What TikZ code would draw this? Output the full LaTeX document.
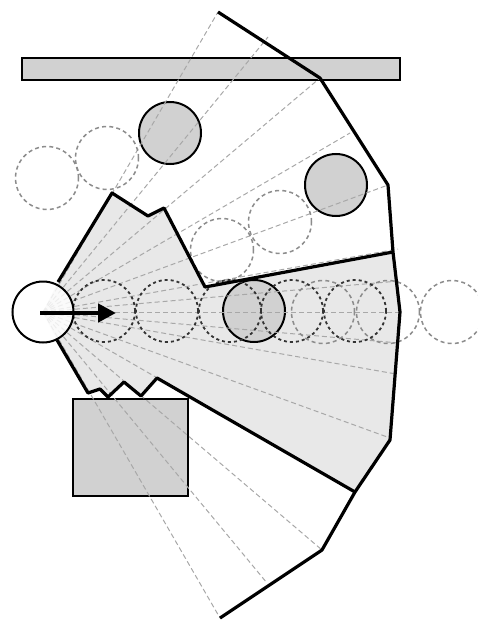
\documentclass[tikz,border=0pt]{standalone}
\usetikzlibrary{arrows.meta}
\begin{document}
\begin{tikzpicture}[x=0.5mm,y=-0.5mm,
  region/.style={fill=black!9},
  obst/.style={draw=black,fill=black!18,line width=1.0mm},
  obstc/.style={circle,draw=black,fill=black!18,line width=1.0mm,minimum size=31mm,inner sep=0pt},
  sray/.style={draw=black!34,line width=0.5mm,dash pattern=on 2.5mm off 1.5mm},
  dcirc/.style={circle,draw=black!80,line width=0.9mm,dash pattern=on 1.5mm off 1.5mm,minimum size=31mm,inner sep=0pt},
  lcirc/.style={circle,draw=black!45,line width=0.75mm,dash pattern=on 2mm off 1.6mm,minimum size=31.5mm,inner sep=0pt},
  bound/.style={draw=black,line width=1.6mm,line join=round},
  robot/.style={circle,draw=black,fill=white,fill opacity=0.8,line width=1.0mm,minimum size=30.5mm,inner sep=0pt},
  mvarrow/.style={draw=black,line width=2.4mm,-{Triangle[length=9mm,width=9mm]}}
]
\useasboundingbox (0,0) rectangle (478,623);
\coordinate (c) at (43,312);
% shaded visible region
\path[region] (c) -- (58,282) -- (112,193) -- (148,216) -- (164,208) -- (205,287) -- (393,252) -- (400,312) -- (390,440) -- (355,492) -- (157,378) -- (141,396) -- (124,382) -- (108,397) -- (100,389) -- (88,393) -- (57,340) -- cycle;
% obstacles
\node[obst,minimum width=189mm,minimum height=11mm,inner sep=0pt,draw,rectangle] (wall) at (211,69) {};
\node[obst,minimum width=57.5mm,minimum height=48.5mm,inner sep=0pt,draw,rectangle] (box) at (130.5,447.5) {};
\node[obstc] (o1) at (170,133) {};
\node[obstc] (o2) at (336,185) {};
\node[obstc] (o3) at (254,311) {};
% rays
\coordinate (r1) at (218,12);
\coordinate (r2) at (268,37);
\coordinate (r3) at (320,78);
\coordinate (r4) at (350,133);
\coordinate (r5) at (388,185);
\coordinate (r6) at (398,249);
\coordinate (r7) at (399,281);
\coordinate (r8) at (400,312);
\coordinate (r9) at (399,343);
\coordinate (r10) at (396,374);
\coordinate (r11) at (390,438);
\coordinate (r12) at (355,492);
\coordinate (r13) at (322,550);
\coordinate (r14) at (267,583);
\coordinate (r15) at (220,618);
\foreach \i in {1,...,15}{
  \draw[sray] (c) -- (r\i);
}
% predicted obstacle positions
\node[lcirc] (l1) at (47,178) {};
\node[lcirc] (l2) at (107,158) {};
\node[lcirc] (l3) at (222,250) {};
\node[lcirc] (l4) at (280,222) {};
\node[lcirc] (l5) at (323,312) {};
\node[lcirc] (l6) at (388,312) {};
\node[lcirc] (l7) at (452,312) {};
\node[dcirc] (d1) at (104,311) {};
\node[dcirc] (d2) at (167,311) {};
\node[dcirc] (d3) at (230,311) {};
\node[dcirc] (d4) at (292,311) {};
\node[dcirc] (d5) at (355,311) {};
% boundaries
\coordinate (b1) at (218,12);
\coordinate (b2) at (320,78);
\coordinate (b3) at (388,185);
\coordinate (b4) at (393,252);
\coordinate (b5) at (400,312);
\coordinate (b6) at (390,440);
\coordinate (b7) at (355,492);
\coordinate (b8) at (322,550);
\coordinate (b9) at (220,618);
\draw[bound] (b1) -- (b2) -- (b3) -- (b4) -- (b5) -- (b6) -- (b7) -- (b8) -- (b9);
\draw[bound] (58,282) -- (112,193) -- (148,216) -- (164,208) -- (205,287) -- (b4);
\draw[bound] (57,340) -- (88,393) -- (100,389) -- (108,397) -- (124,382) -- (141,396) -- (157,378) -- (b7);
% robot
\node[robot] (rob) at (c) {};
\coordinate (ahead) at (116,313);
\draw[mvarrow] (40,313) -- (ahead);
\end{tikzpicture}
\end{document}
